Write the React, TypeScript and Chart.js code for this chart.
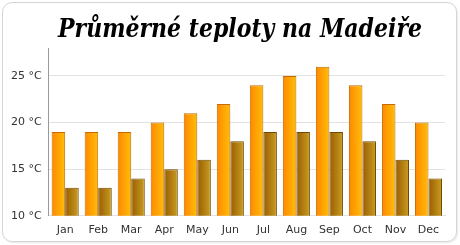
import React, { useEffect, useRef } from "react";
import { Chart, registerables } from "chart.js";

Chart.register(...registerables);

const title = "Průměrné teploty na Madeiře";
const months = ["Jan", "Feb", "Mar", "Apr", "May", "Jun", "Jul", "Aug", "Sep", "Oct", "Nov", "Dec"];
const maxTemps = [19, 19, 19, 20, 21, 22, 24, 25, 26, 24, 22, 20];
const minTemps = [13, 13, 14, 15, 16, 18, 19, 19, 19, 18, 16, 14];
const yTicks = [10, 15, 20, 25];

const gradients: Record<number, [string, string]> = {
  0: ["#ff8800", "#ffbe08"],
  1: ["#9a5c00", "#c89e22"],
};

const gradientPlugin = {
  id: "barGradient",
  beforeDatasetsDraw(chart: any) {
    const ctx = chart.ctx;
    chart.data.datasets.forEach((_: any, di: number) => {
      const meta = chart.getDatasetMeta(di);
      meta.data.forEach((el: any) => {
        const half = el.width / 2;
        const g = ctx.createLinearGradient(el.x - half, 0, el.x + half, 0);
        g.addColorStop(0, gradients[di][0]);
        g.addColorStop(1, gradients[di][1]);
        el.options.backgroundColor = g;
      });
    });
  },
};

const titlePlugin = {
  id: "customTitle",
  afterDraw(chart: any) {
    const ctx = chart.ctx;
    ctx.save();
    ctx.font = "italic bold 26px 'DejaVu Serif'";
    const w = ctx.measureText(title).width;
    ctx.translate(240, 37);
    ctx.scale(364 / w, 1);
    ctx.textAlign = "center";
    ctx.textBaseline = "alphabetic";
    ctx.fillStyle = "#000";
    ctx.fillText(title, 0, 0);
    ctx.restore();
  },
};

export default function App() {
  const ref = useRef<HTMLCanvasElement>(null);
  useEffect(() => {
    document.body.style.margin = "0";
    const chart = new Chart(ref.current!, {
      type: "bar",
      data: {
        labels: months,
        datasets: [
          {
            data: maxTemps,
            backgroundColor: () => "#ffa500",
            borderColor: "#c46a00",
            borderWidth: 1,
            barPercentage: 1,
            categoryPercentage: 0.82,
          },
          {
            data: minTemps,
            backgroundColor: () => "#b08010",
            borderColor: "#6e4a00",
            borderWidth: 1,
            barPercentage: 1,
            categoryPercentage: 0.82,
          },
        ],
      },
      options: {
        animation: false,
        responsive: false,
        layout: { padding: { left: 4, right: 15, top: 48, bottom: 0 } },
        plugins: {
          legend: { display: false },
          tooltip: { enabled: false },
          title: { display: false },
        },
        scales: {
          x: {
            grid: { display: false, drawTicks: false },
            border: { color: "#e2e2e2" },
            ticks: { color: "#333", font: { family: "DejaVu Sans", size: 11 }, padding: 8 },
          },
          y: {
            min: 10,
            max: 28,
            afterBuildTicks: (axis: any) => {
              axis.ticks = yTicks.map((v) => ({ value: v }));
            },
            grid: { color: "#e2e2e2", drawTicks: false },
            border: { color: "#999" },
            ticks: {
              color: "#333",
              font: { family: "DejaVu Sans", size: 11 },
              padding: 7,
              callback: (v: any) => v + " °C",
            },
          },
        },
      },
      plugins: [gradientPlugin, titlePlugin],
    });
    return () => chart.destroy();
  }, []);
  return (
    <div style={{ position: "relative", width: 460, height: 245, background: "#fff" }}>
      <div
        style={{
          position: "absolute",
          left: 2,
          top: 2,
          width: 453,
          height: 238,
          border: "1px solid #d6d6d6",
          borderRadius: 10,
          boxShadow: "1px 1px 2px #e8e8e8",
        }}
      />
      <canvas ref={ref} width={460} height={245} style={{ position: "absolute", left: 0, top: 0 }} />
    </div>
  );
}
